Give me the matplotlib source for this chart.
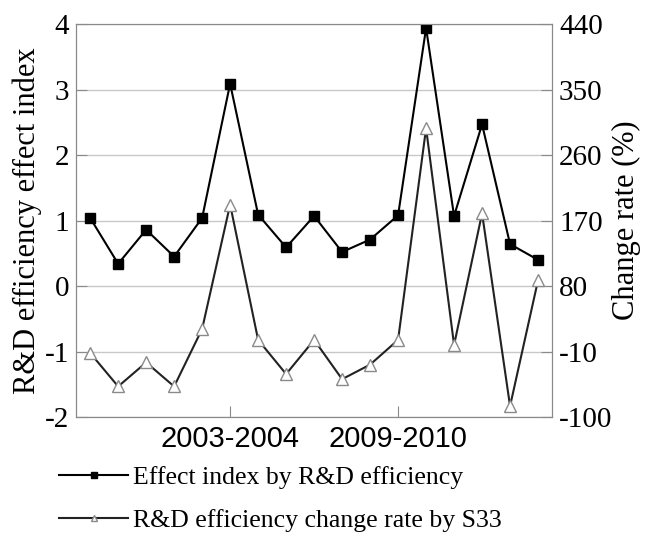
import matplotlib
matplotlib.use("Agg")
import matplotlib.pyplot as plt
import numpy as np

# Données
periodes = ["1998-1999", "1999-2000", "2000-2001", "2001-2002", "2002-2003",
            "2003-2004", "2004-2005", "2005-2006", "2006-2007", "2007-2008",
            "2008-2009", "2009-2010", "2010-2011", "2011-2012", "2012-2013",
            "2013-2014", "2014-2015"]
indice_effet = [1.04, 0.34, 0.86, 0.45, 1.04, 3.09, 1.09, 0.59, 1.07, 0.52,
                0.71, 1.08, 3.94, 1.07, 2.47, 0.64, 0.40]
taux_variation = [-12, -58, -25, -58, 21, 192, 6, -41, 6, -48,
                  -28, 6, 297, -1, 180, -85, 88]
ticks_x = ["2003-2004", "2009-2010"]

plt.rcParams['font.family'] = ['Liberation Serif', 'DejaVu Serif']
plt.rcParams['axes.unicode_minus'] = False

fig = plt.figure(figsize=(6.51, 5.36), dpi=100)
ax = fig.add_subplot(111)
fig.subplots_adjust(left=0.117, right=0.848, top=0.955, bottom=0.222)
ax2 = ax.twinx()

x = np.arange(len(periodes))

l1, = ax.plot(x, indice_effet, color="black", lw=1.5, marker="s", ms=6.5,
              mfc="black", mec="black", zorder=3)
l2, = ax2.plot(x, taux_variation, color="#222222", lw=1.5, marker="^", ms=8,
               mfc="white", mec="#8a8a8a", mew=1.0, zorder=3)

ax.set_xlim(-0.5, len(periodes) - 0.5)
ax.set_ylim(-2, 4)
ax.set_yticks(np.arange(-2, 5, 1))
ax2.set_ylim(-100, 440)
ax2.set_yticks(np.arange(-100, 441, 90))

ax.yaxis.grid(True, color="#c8c8c8", lw=1.0)
ax.set_axisbelow(True)

ax.set_xticks([periodes.index(t) for t in ticks_x])
ax.set_xticklabels(ticks_x, family=['Liberation Sans', 'DejaVu Sans'], fontsize=17)

for a in (ax, ax2):
    for s in a.spines.values():
        s.set_color("#8a8a8a")
    a.tick_params(direction="in", length=8, color="#8a8a8a", labelsize=21, pad=5)
ax.tick_params(axis="x", pad=6)

ax.set_ylabel("R&D efficiency effect index", fontsize=22, labelpad=2)
ax2.set_ylabel("Change rate (%)", fontsize=22, labelpad=0)

fig.legend([l1, l2], ["Effect index by R&D efficiency",
                      "R&D efficiency change rate by S33"],
           loc="lower left", bbox_to_anchor=(0.055, -0.036), frameon=False,
           fontsize=18.5, handlelength=2.7, handletextpad=0.2,
           markerscale=0.6, labelspacing=0.8)

fig.savefig("out.png", dpi=100)
